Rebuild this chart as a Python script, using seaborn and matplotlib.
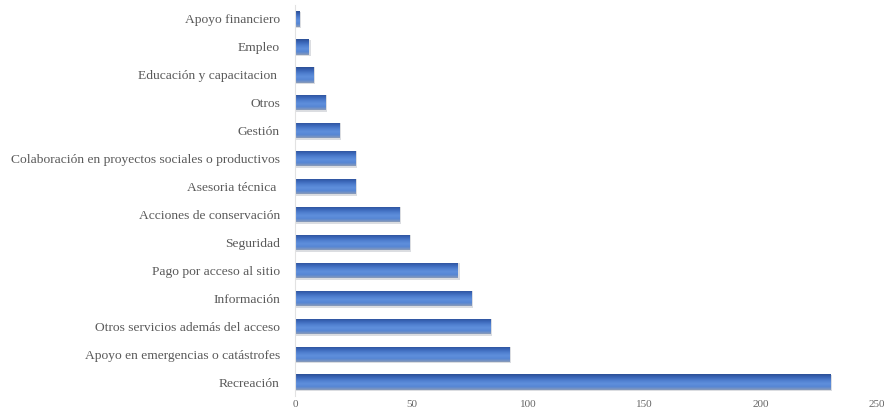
import numpy as np
import pandas as pd
import seaborn as sns
import matplotlib.pyplot as plt
from matplotlib.colors import LinearSegmentedColormap

categorias = [
    "Apoyo financiero",
    "Empleo",
    "Educación y capacitacion ",
    "Otros",
    "Gestión",
    "Colaboración en proyectos sociales o productivos",
    "Asesoria técnica ",
    "Acciones de conservación",
    "Seguridad",
    "Pago por acceso al sitio",
    "Información",
    "Otros servicios además del acceso",
    "Apoyo en emergencias o catástrofes",
    "Recreación",
]
valores = [2, 6, 8, 13, 19, 26, 26, 45, 49, 70, 76, 84, 92, 230]
x_ticks = [0, 50, 100, 150, 200, 250]

df = pd.DataFrame({"categoria": categorias, "valor": valores})

sns.set_style("white")
plt.rcParams["font.family"] = ["Liberation Serif", "DejaVu Serif"]

fig = plt.figure(figsize=(8.84, 4.17), dpi=100)
ax = fig.add_axes([0.334, 0.05, 0.658, 0.938])

sns.barplot(data=df, x="valor", y="categoria", orient="h", color="#3c66b5",
            width=0.55, ax=ax)

# gradiente tipo Excel dentro de cada barra
grad = LinearSegmentedColormap.from_list(
    "barra", ["#2c4f96", "#3a66b8", "#4f7fcf", "#5f8fdc", "#5686d4", "#8a9bb8"])
img = np.linspace(0, 1, 64).reshape(-1, 1)
for p in ax.patches:
    x0, y0 = p.get_x(), p.get_y()
    w, h = p.get_width(), p.get_height()
    # sombra ligera
    ax.add_patch(plt.Rectangle((x0, y0 + h * 0.02), w + 0.6, h * 1.08,
                               color="#b8bcc4", alpha=0.5, zorder=1, lw=0))
    p.set_facecolor("none")
    im = ax.imshow(img, cmap=grad, aspect="auto", extent=(x0, x0 + w, y0 + h, y0),
                   zorder=2, interpolation="bilinear")
    im.set_clip_path(p)

ax.set_xlim(0, 250)
ax.set_ylim(len(categorias) - 0.5, -0.5)
ax.set_xticks(x_ticks)
ax.set_xlabel("")
ax.set_ylabel("")
for s in ["top", "right", "bottom"]:
    ax.spines[s].set_visible(False)
ax.spines["left"].set_color("#e2e2e2")
ax.spines["left"].set_linewidth(0.8)
ax.tick_params(axis="y", length=0, pad=11, labelsize=9.7, labelcolor="#595959")
ax.tick_params(axis="x", length=0, pad=3, labelsize=8, labelcolor="#666666")

fig.savefig("out.png", dpi=100)
